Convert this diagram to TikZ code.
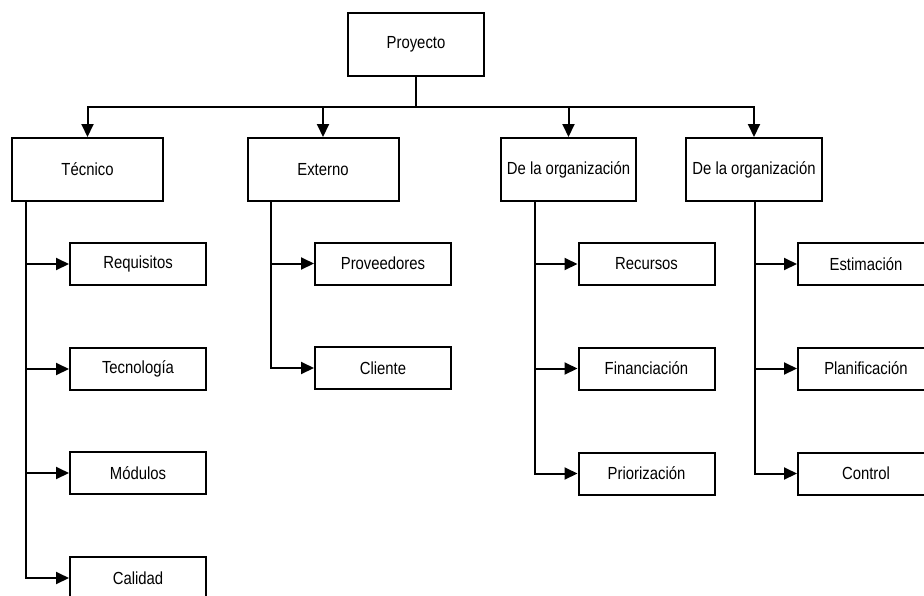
\documentclass[tikz,border=0pt]{standalone}
\usepackage{fontspec}
\setmainfont{Liberation Sans}[FakeStretch=0.85]
\usetikzlibrary{arrows.meta}
\begin{document}
\begin{tikzpicture}[x=1pt,y=-1pt,
  box/.style={draw=black,line width=2pt,fill=white,inner sep=0pt,font=\fontsize{17.5}{20}\selectfont},
  topbox/.style={box,minimum width=151pt,minimum height=63pt},
  kidbox/.style={box,minimum width=136pt,minimum height=42pt},
  conn/.style={draw=black,line width=2pt},
  arr/.style={conn,-{Triangle[length=13pt,width=12pt]}}]
\useasboundingbox (0,0) rectangle (924,595);
\clip (0,0) rectangle (924,595);
\fill[white] (0,0) rectangle (924,595);
% root
\node[box,minimum width=136pt,minimum height=63pt] (P) at (416,44.5) {Proyecto};
% top-level
\node[topbox] (T) at (87.5,169.5) {Técnico};
\node[topbox] (E) at (323,169.5) {Externo};
\node[topbox,minimum width=135pt] (O1) at (568.5,169.5) {De la organización};
\node[topbox,minimum width=136pt] (O2) at (754,169.5) {De la organización};
% children of Técnico
\node[kidbox] (T1) at (138,264) {Requisitos};
\node[kidbox] (T2) at (138,369) {Tecnología};
\node[kidbox] (T3) at (138,473) {Módulos};
\node[kidbox] (T4) at (138,578) {Calidad};
% children of Externo
\node[kidbox] (E1) at (383,263.5) {Proveedores};
\node[kidbox] (E2) at (383,368) {Cliente};
% children of org 1
\node[kidbox] (R1) at (646.5,264) {Recursos};
\node[kidbox] (R2) at (646.5,368.5) {Financiación};
\node[kidbox] (R3) at (646.5,473.5) {Priorización};
% children of org 2
\node[kidbox] (S1) at (866,264) {Estimación};
\node[kidbox] (S2) at (866,368.5) {Planificación};
\node[kidbox] (S3) at (866,473.5) {Control};
% bus
\coordinate (bus) at (416,107);
\draw[conn] (P.south) -- (bus);
\draw[arr] (bus) -| (T.north);
\draw[arr] (bus) -| (E.north);
\draw[arr] (bus) -| (O1.north);
\draw[arr] (bus) -| (O2.north);
% Técnico branch
\coordinate (ta) at (26,201);
\draw[arr] (ta) |- (T1.west);
\draw[arr] (ta) |- (T2.west);
\draw[arr] (ta) |- (T3.west);
\draw[arr] (ta) |- (T4.west);
% Externo branch
\coordinate (ea) at (271,201);
\draw[arr] (ea) |- (E1.west);
\draw[arr] (ea) |- (E2.west);
% org 1 branch
\coordinate (oa) at (535,201);
\draw[arr] (oa) |- (R1.west);
\draw[arr] (oa) |- (R2.west);
\draw[arr] (oa) |- (R3.west);
% org 2 branch
\coordinate (ob) at (755,201);
\draw[arr] (ob) |- (S1.west);
\draw[arr] (ob) |- (S2.west);
\draw[arr] (ob) |- (S3.west);
\end{tikzpicture}
\end{document}
